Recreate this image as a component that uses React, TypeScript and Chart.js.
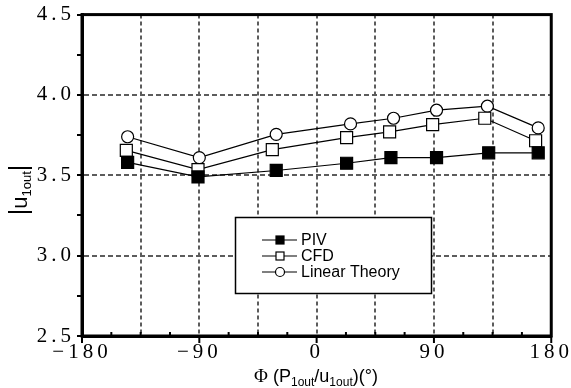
import React, { useEffect, useRef } from 'react';
import { Chart, registerables } from 'chart.js';

Chart.register(...registerables);

// Data
const phiPIV = [-145, -91, -31, 23, 57, 92, 132, 170];
const uPIV = [3.58, 3.49, 3.53, 3.575, 3.61, 3.61, 3.64, 3.64];
const phiCFD = [-146, -91, -34, 23, 56, 89, 129, 168];
const uCFD = [3.655, 3.535, 3.66, 3.735, 3.77, 3.815, 3.855, 3.715];
const phiLT = [-145, -90, -31, 26, 59, 92, 131, 170];
const uLT = [3.74, 3.61, 3.755, 3.82, 3.855, 3.905, 3.93, 3.795];

const seriesLabels = ['PIV', 'CFD', 'Linear Theory'];
const xLabelValues = [-180, -90, 0, 90, 180];
const yLabelValues = [2.5, 3.0, 3.5, 4.0, 4.5];

const toPoints = (xs: number[], ys: number[]) => xs.map((x, i) => ({ x, y: ys[i] }));

const SERIF = '"Liberation Serif", "Times New Roman", serif';
const SANS = '"Liberation Sans", Arial, sans-serif';

type Piece = { t: string; font: string; dy: number };

function drawPieces(ctx: CanvasRenderingContext2D, pieces: Piece[], cx: number, baseY: number) {
  let total = 0;
  for (const p of pieces) {
    ctx.font = p.font;
    total += ctx.measureText(p.t).width;
  }
  let x = cx - total / 2;
  ctx.textAlign = 'left';
  ctx.textBaseline = 'alphabetic';
  for (const p of pieces) {
    ctx.font = p.font;
    ctx.fillText(p.t, x, baseY + p.dy);
    x += ctx.measureText(p.t).width;
  }
}

const decorPlugin = {
  id: 'decor',
  beforeDraw(chart: any) {
    (chart.ctx as any).letterSpacing = '4px';
  },
  beforeDatasetsDraw(chart: any) {
    const ctx = chart.ctx as CanvasRenderingContext2D;
    (ctx as any).letterSpacing = '0px';
    const a = chart.chartArea;
    const xs = chart.scales.x;
    ctx.save();
    ctx.strokeStyle = '#000';
    ctx.lineWidth = 2;
    for (const t of xs.ticks) {
      const px = xs.getPixelForValue(t.value);
      ctx.beginPath();
      if (Math.abs(t.value % 90) < 1e-6) {
        ctx.moveTo(px, a.bottom);
        ctx.lineTo(px, a.bottom + 7);
      } else {
        ctx.moveTo(px, a.bottom - 4);
        ctx.lineTo(px, a.bottom);
      }
      ctx.stroke();
    }
    ctx.restore();
  },
  afterDraw(chart: any) {
    const ctx = chart.ctx as CanvasRenderingContext2D;
    (ctx as any).letterSpacing = '0px';
    const a = chart.chartArea;
    ctx.save();
    // frame
    ctx.strokeStyle = '#000';
    ctx.lineWidth = 3;
    ctx.strokeRect(a.left, a.top, a.right - a.left, a.bottom - a.top);

    // legend
    const bx = 235.5, by = 217.5, bw = 196, bh = 76;
    ctx.fillStyle = '#fff';
    ctx.fillRect(bx, by, bw, bh);
    ctx.lineWidth = 1.5;
    ctx.strokeRect(bx, by, bw, bh);
    const rows = [240, 256, 272];
    chart.data.datasets.forEach((ds: any, i: number) => {
      const y = rows[i];
      ctx.strokeStyle = '#000';
      ctx.lineWidth = 1.2;
      ctx.beginPath();
      ctx.moveTo(262, y);
      ctx.lineTo(297, y);
      ctx.stroke();
      ctx.fillStyle = ds.pointBackgroundColor;
      if (ds.pointStyle === 'rect') {
        ctx.fillRect(276, y - 4, 8, 8);
        ctx.strokeRect(276, y - 4, 8, 8);
      } else {
        ctx.beginPath();
        ctx.arc(280, y, 4.5, 0, Math.PI * 2);
        ctx.fill();
        ctx.stroke();
      }
      ctx.fillStyle = '#000';
      ctx.font = `16px ${SANS}`;
      ctx.textAlign = 'left';
      ctx.textBaseline = 'middle';
      ctx.fillText(ds.label, 301, y + 1);
    });

    // x title
    ctx.fillStyle = '#000';
    drawPieces(
      ctx,
      [
        { t: 'Φ', font: `19px ${SERIF}`, dy: 0 },
        { t: ' (P', font: `18px ${SANS}`, dy: 0 },
        { t: '1out', font: `12px ${SANS}`, dy: 4 },
        { t: '/u', font: `18px ${SANS}`, dy: 0 },
        { t: '1out', font: `12px ${SANS}`, dy: 4 },
        { t: ')(°)', font: `18px ${SANS}`, dy: 0 },
      ],
      316,
      382
    );

    // y title (rotated)
    ctx.translate(27, 190);
    ctx.rotate(-Math.PI / 2);
    drawPieces(
      ctx,
      [
        { t: '|', font: `25px ${SANS}`, dy: 0 },
        { t: 'u', font: `22px ${SANS}`, dy: 0 },
        { t: '1out', font: `13px ${SANS}`, dy: 4 },
        { t: '|', font: `25px ${SANS}`, dy: 0 },
      ],
      0,
      0
    );
    ctx.restore();
  },
};

export default function App() {
  const ref = useRef<HTMLCanvasElement | null>(null);

  useEffect(() => {
    if (!ref.current) return;
    const gridColor = (v: number, step: number, lo: number, hi: number) =>
      Math.abs(v % step) < 1e-6 && v > lo + 1e-6 && v < hi - 1e-6 ? '#5c5c5c' : 'rgba(0,0,0,0)';

    const chart = new Chart(ref.current, {
      type: 'line',
      data: {
        datasets: [
          {
            label: seriesLabels[0],
            data: toPoints(phiPIV, uPIV),
            borderColor: '#000',
            borderWidth: 1.2,
            pointStyle: 'rect',
            pointRadius: 8.5,
            pointBackgroundColor: '#000',
            pointBorderColor: '#000',
            pointBorderWidth: 1.2,
          },
          {
            label: seriesLabels[1],
            data: toPoints(phiCFD, uCFD),
            borderColor: '#000',
            borderWidth: 1.2,
            pointStyle: 'rect',
            pointRadius: 8.5,
            pointBackgroundColor: '#fff',
            pointBorderColor: '#000',
            pointBorderWidth: 1.2,
          },
          {
            label: seriesLabels[2],
            data: toPoints(phiLT, uLT),
            borderColor: '#000',
            borderWidth: 1.2,
            pointStyle: 'circle',
            pointRadius: 6,
            pointBackgroundColor: '#fff',
            pointBorderColor: '#000',
            pointBorderWidth: 1.2,
          },
        ],
      },
      options: {
        animation: false,
        responsive: false,
        events: [],
        layout: { padding: { left: 0, top: 14, right: 18, bottom: 0 } },
        plugins: { legend: { display: false }, tooltip: { enabled: false } },
        scales: {
          x: {
            type: 'linear',
            min: -180,
            max: 180,
            afterFit: (s: any) => {
              s.height = 52;
            },
            ticks: {
              stepSize: 22.5,
              autoSkip: false,
              maxRotation: 0,
              padding: 4,
              color: '#000',
              font: { family: SERIF, size: 21 },
              callback: (v: any) => {
                const n = Number(v);
                if (!xLabelValues.some((q) => Math.abs(q - n) < 1e-6)) return '';
                return n < 0 ? '\u2212' + Math.abs(n) : String(n);
              },
            },
            grid: {
              color: (c: any) => gridColor(c.tick.value, 45, -180, 180),
              lineWidth: 2,
              drawTicks: false,
              tickLength: 0,
            },
            border: { display: true, color: '#000', width: 3, dash: [4, 3] },
          },
          y: {
            type: 'linear',
            min: 2.5,
            max: 4.5,
            afterFit: (s: any) => {
              s.width = 82;
            },
            ticks: {
              stepSize: 0.25,
              autoSkip: false,
              padding: 2,
              color: '#000',
              font: { family: SERIF, size: 21 },
              callback: (v: any) => {
                const n = Number(v);
                if (!yLabelValues.some((q) => Math.abs(q - n) < 1e-6)) return '';
                return n.toFixed(1);
              },
            },
            grid: {
              color: (c: any) => gridColor(c.tick.value, 0.5, 2.5, 4.5),
              lineWidth: 2,
              drawTicks: true,
              tickLength: 5,
              tickColor: '#000',
              tickWidth: 2,
              tickBorderDash: [],
            },
            border: { display: true, color: '#000', width: 3, dash: [5, 3] },
          },
        },
      } as any,
      plugins: [decorPlugin],
    });
    return () => chart.destroy();
  }, []);

  return (
    <div style={{ position: 'absolute', left: 0, top: 0, width: 571, height: 388, background: '#fff' }}>
      <canvas ref={ref} width={571} height={388} style={{ display: 'block' }} />
    </div>
  );
}
